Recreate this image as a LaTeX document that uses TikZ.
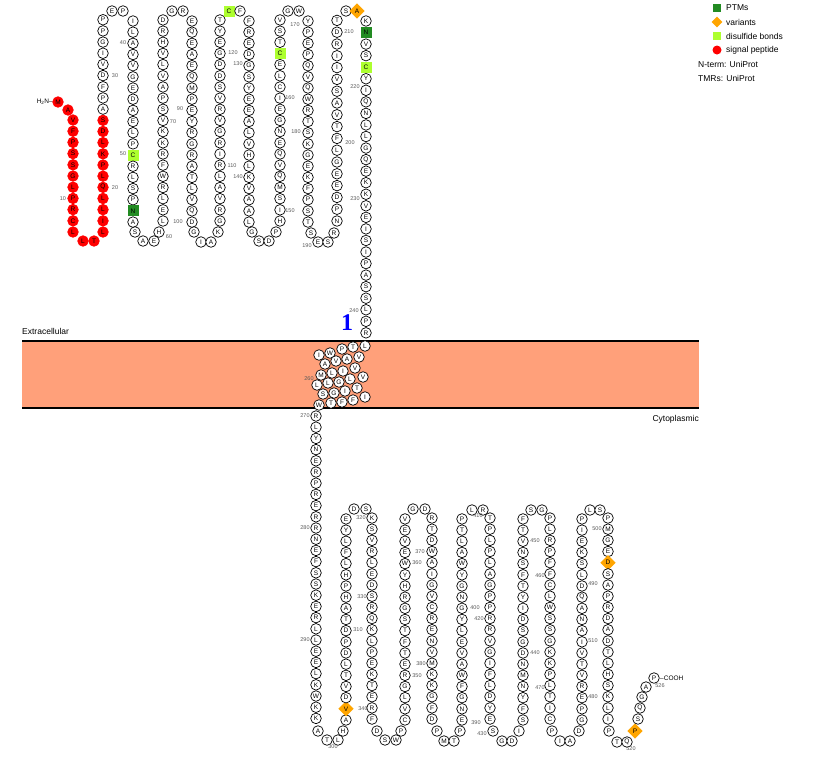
\documentclass[tikz,border=0pt]{standalone}
\usepackage{fontspec}
\setmainfont{Liberation Sans}
\newfontfamily\serifone{Liberation Serif}
\usetikzlibrary{shapes.geometric}
\definecolor{limec}{HTML}{ADFF2F}
\definecolor{ptmc}{HTML}{228B22}
\definecolor{varc}{HTML}{FFA500}
\definecolor{memc}{HTML}{FFA07A}
\newcommand\setsp[3]{\expandafter\def\csname sp@#1@#2\endcsname{#3}}
\newcommand\pcol[6][]{\def\pcolid{#2}\foreach \l [count=\i] in {#6}{\node[res,#1,sp=\i,name=c#2-\i] at (#3,{#4+(\i-1)*(#5)}) {\l};}}
\newcommand\rs[5][]{\node[res,#1] (#2) at (#3,#4) {#5};}
\tikzset{
 res/.style={circle,draw,line width=0.7pt,minimum size=10.6pt,inner sep=0pt,fill=white,font=\fontsize{6.5}{7}\selectfont},
 sig/.style={fill=red,draw=red},
 lime/.style={rectangle,fill=limec,draw=none,minimum size=11pt},
 ptm/.style={rectangle,fill=ptmc,draw=none,minimum size=11pt},
 var/.style={diamond,fill=varc,draw=none,minimum size=15.5pt},
 num/.style={font=\fontsize{5.5}{6}\selectfont,text=black!65,inner sep=0pt},
 leg/.style={font=\fontsize{8.5}{10}\selectfont,anchor=west,inner sep=0pt},
 sp/.code={\ifcsname sp@\pcolid @#1\endcsname\edef\tmpsp{\csname sp@\pcolid @#1\endcsname}\expandafter\pgfkeysalso\expandafter{\tmpsp}\fi}
}
\setsp{3}{13}{lime}\setsp{3}{18}{ptm}\setsp{8}{16}{lime}
\setsp{11}{2}{ptm}\setsp{11}{5}{lime}\setsp{13}{2}{var}\setsp{22}{5}{var}
\begin{document}
\begin{tikzpicture}[x=1pt,y=-1pt]
\useasboundingbox (0,0) rectangle (822,756);
% membrane
\fill[memc] (22,341) rectangle (699,408);
\draw[line width=1.6pt] (22,341) -- (699,341);
\draw[line width=1.6pt] (22,408) -- (699,408);
\node[leg] (ext) at (22,331) {Extracellular};
\node[leg,anchor=east] (cyt) at (699,419) {Cytoplasmic};
\node[text=blue,font=\serifone\bfseries\fontsize{24}{26}\selectfont] (one) at (347,323) {1};
% N-terminus
\node[font=\fontsize{6.5}{7}\selectfont,anchor=east,inner sep=0pt] (nt) at (53,102) {H\textsubscript{2}N–};
\rs[sig]{r1}{58}{102}{M}\rs[sig]{r2}{68}{110}{A}
\pcol[sig]{1}{73}{120}{11.2}{V,F,P,S,S,G,L,P,R,C,L}
\rs[sig]{t1}{83}{241}{L}\rs[sig]{t2}{94}{241}{T}
\pcol[sig]{2}{103}{232}{-11.17}{L,I,L,L,Q,L,P,K,L,D,S}
\pcol{2b}{103}{109.1}{-11.17}{A,P,F,D,V,I,G,P,P}
\rs{t3}{112}{11}{E}\rs{t4}{123}{11}{P}
\pcol{3}{133}{21}{11.17}{I,L,A,V,V,G,E,D,A,E,L,P,C,R,L,S,P,N,A}
\rs{t5}{135}{232}{S}\rs{t6}{143}{241}{A}\rs{t7}{154}{241}{E}\rs{t8}{159}{232}{H}
\pcol{4}{163}{221}{-11.17}{L,E,L,R,W,F,R,K,K,V,S,P,A,V,L,V,H,R,D}
\rs{t9}{172}{11}{G}\rs{t10}{183}{11}{R}
\pcol{5}{192}{21}{11.17}{E,Q,E,A,E,Q,M,P,E,Y,R,G,R,A,T,L,V,Q,D}
\rs{t11}{194}{232}{G}\rs{t12}{201}{242}{I}\rs{t13}{211}{242}{A}\rs{t14}{218}{232}{K}
\pcol{6}{220}{221}{-11.17}{G,R,V,A,L,R,I,R,G,V,R,V,S,D,D,G,E,Y,T}
\rs[lime]{t15}{229}{11}{C}\rs{t16}{240}{11}{F}
\pcol{7}{249}{21}{11.17}{F,R,E,D,G,S,Y,E,E,A,L,V,H,L,K,V,A,A,L}
\rs{t17}{252}{232}{G}\rs{t18}{259}{241}{S}\rs{t19}{269}{241}{D}\rs{t20}{276}{232}{P}
\pcol{8}{280}{221}{-11.17}{H,I,S,M,Q,V,Q,E,N,G,E,I,C,L,E,C,T,S,V}
\rs{t21}{288}{11}{G}\rs{t22}{299}{11}{W}
\pcol{9}{308}{21}{11.17}{Y,P,E,P,Q,V,Q,W,R,T,S,K,G,E,K,F,P,S,T}
\rs{t23}{311}{233}{S}\rs{t24}{318}{242}{E}\rs{t25}{328}{242}{S}\rs{t26}{334}{233}{R}
\pcol{10}{337}{221}{-11.8}{N,P,D,E,E,G,L,F,T,V,A,S,V,I,I,R,D,T}
\rs{t27}{346}{11}{S}\rs[var]{t28}{357}{11}{A}
\pcol{11}{366}{21}{11.55}{K,N,V,S,C,Y,I,Q,N,L,L,G,Q,E,K,K,V,E,I,S,I,P,A,S,S,L,P,R}
% TM helix
\rs{m1}{365}{346}{L}\rs{m2}{353}{347}{T}\rs{m3}{342}{349}{P}\rs{m4}{330}{353}{W}\rs{m5}{319}{355}{I}
\rs{m6}{325}{364}{A}\rs{m7}{336}{361}{V}\rs{m8}{347}{359}{A}\rs{m9}{359}{357}{V}
\rs{m10}{355}{368}{V}\rs{m11}{343}{371}{I}\rs{m12}{332}{373}{L}\rs{m13}{321}{375}{M}
\rs{m14}{317}{385}{L}\rs{m15}{328}{383}{L}\rs{m16}{339}{382}{G}\rs{m17}{350}{379}{L}\rs{m18}{363}{377}{V}
\rs{m19}{357}{388}{T}\rs{m20}{345}{391}{I}\rs{m21}{334}{393}{G}\rs{m22}{323}{394}{S}
\rs{m23}{365}{397}{I}\rs{m24}{353}{400}{F}\rs{m25}{342}{402}{F}\rs{m26}{331}{403}{T}\rs{m27}{319}{405}{W}
% cytoplasmic
\pcol{12}{316}{416}{11.2}{R,L,Y,N,E,R,P,R,E,R,R,N,E,F,S,S,K,E,R,L,L,E,E,L,K,W,K,K}
\rs{u1}{318}{731}{A}\rs{u2}{327}{740}{T}\rs{u3}{338}{740}{L}\rs{u4}{343}{731}{H}
\pcol{13}{346}{720}{-11.17}{A,V,D,V,T,L,D,P,D,T,A,H,P,H,L,F,L,Y,E}
\rs{u5}{354}{509}{D}\rs{u6}{366}{509}{S}
\pcol{14}{372}{518}{11.17}{K,S,V,R,L,E,D,S,R,Q,K,L,P,E,K,T,E,R,F}
\rs{u7}{377}{731}{D}\rs{u8}{385}{740}{S}\rs{u9}{396}{740}{W}\rs{u10}{401}{731}{P}
\pcol{15}{405}{720}{-11.17}{C,V,L,G,R,E,T,F,T,S,G,R,H,Y,W,E,V,E,V}
\rs{u11}{413}{509}{G}\rs{u12}{425}{509}{D}
\pcol{16}{432}{518}{11.17}{R,T,D,W,A,I,G,V,C,R,E,N,V,M,K,K,G,F,D}
\rs{u13}{437}{731}{P}\rs{u14}{444}{741}{M}\rs{u15}{454}{741}{T}\rs{u16}{460}{731}{P}
\pcol{17}{462}{720}{-11.17}{E,N,G,F,W,A,V,E,L,Y,G,N,G,Y,W,A,L,T,P}
\rs{u17}{472}{510}{L}\rs{u18}{483}{510}{R}
\pcol{18}{490}{518}{11.17}{T,P,L,P,L,A,G,P,P,R,R,V,G,I,F,L,D,Y,E}
\rs{u19}{493}{731}{S}\rs{u20}{502}{741}{G}\rs{u21}{512}{741}{D}\rs{u22}{519}{731}{I}
\pcol{19}{523}{720}{-11.17}{S,F,Y,N,M,N,D,G,S,D,I,Y,T,F,S,N,V,T,F}
\rs{u23}{531}{510}{S}\rs{u24}{542}{510}{G}
\pcol{20}{550}{518}{11.17}{P,L,R,P,F,F,C,L,W,S,S,G,K,K,P,L,T,I,C}
\rs{u25}{552}{731}{P}\rs{u26}{560}{741}{I}\rs{u27}{570}{741}{A}\rs{u28}{579}{731}{D}
\pcol{21}{582}{720}{-11.17}{G,P,E,R,V,T,V,I,A,N,A,Q,D,L,S,K,E,I,P}
\rs{u29}{590}{510}{L}\rs{u30}{600}{510}{S}
\pcol{22}{608}{518}{11.17}{P,M,G,E,D,S,A,P,R,D,A,D,T,L,H,S,K,L,I}
\rs{u31}{609}{731}{P}\rs{u32}{617}{742}{T}\rs{u33}{627}{742}{Q}\rs[var]{u34}{635}{731}{P}
\rs{u35}{638}{719}{S}\rs{u36}{640}{708}{Q}\rs{u37}{642}{697}{G}\rs{u38}{646}{687}{A}\rs{u39}{654}{678}{P}
\node[font=\fontsize{6.5}{7}\selectfont,anchor=west,inner sep=0pt] (cooh) at (660,678) {–COOH};
% numbers
\foreach \n/\x/\y in {10/63/199,20/115/188,30/115/76,40/123/43,50/123/154,60/169/237,70/173/122,90/180/109,100/178/222,
110/232/166,120/233/53,130/238/64,140/238/177,150/290/211,160/290/98,170/295/25,180/296/132,190/307/246,200/350/143,
210/349/32,220/355/87,230/355/199,240/354/311,260/309/379,270/305/416,280/305/528,290/305/640,300/333/747,310/358/630,
320/361/518,330/362/597,340/363/709,350/417/676,360/417/563,370/420/552,380/421/664,390/476/723,400/475/608,410/478/516,
420/479/619,430/482/734,440/535/653,450/535/541,460/540/576,470/540/688,480/593/697,490/593/584,500/597/529,510/593/641,
520/631/749,526/660/686}{\node[num] (n\n) at (\x,\y) {\n};}
% legend
\node[rectangle,fill=ptmc,minimum size=8pt,inner sep=0pt] (lg1) at (717,8) {};
\node[leg] (lt1) at (726,8) {PTMs};
\node[diamond,fill=varc,minimum size=11pt,inner sep=0pt] (lg2) at (717,22) {};
\node[leg] (lt2) at (726,22) {variants};
\node[rectangle,fill=limec,minimum size=8pt,inner sep=0pt] (lg3) at (717,36) {};
\node[leg] (lt3) at (726,36) {disulfide bonds};
\node[circle,fill=red,minimum size=9pt,inner sep=0pt] (lg4) at (717,50) {};
\node[leg] (lt4) at (726,50) {signal peptide};
\node[leg] (lt5) at (698,64) {N-term: UniProt};
\node[leg] (lt6) at (698,78) {TMRs: UniProt};
\end{tikzpicture}
\end{document}
